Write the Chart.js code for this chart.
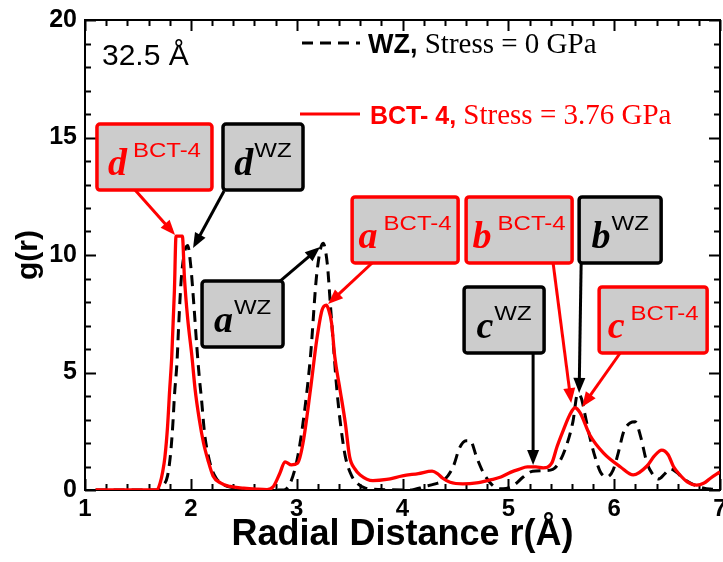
<!DOCTYPE html>
<html>
<head>
<meta charset="utf-8">
<script src="https://cdn.jsdelivr.net/npm/chart.js@4.4.1/dist/chart.umd.min.js"></script>
<style>
  html, body { margin: 0; padding: 0; background: #fff; }
  #wrap { width: 723px; height: 562px; position: relative; }
</style>
</head>
<body>
<div id="wrap"><canvas id="gr-chart"></canvas></div>
<script>
// g(r), BCT-4 (red, 3.76 GPa)
const bctR = [1.10, 1.68, 1.71, 1.735, 1.755, 1.78, 1.80, 1.82, 1.845, 1.86,
              1.92, 1.94, 1.97, 2.01, 2.04, 2.08, 2.12, 2.16, 2.21, 2.28,
              2.37, 2.50, 2.62, 2.72, 2.78, 2.84, 2.89, 2.95, 3.01, 3.06,
              3.13, 3.19, 3.24, 3.28, 3.30, 3.33, 3.36, 3.41, 3.46, 3.50,
              3.55, 3.60, 3.72, 3.85, 4.00, 4.15, 4.28, 4.33, 4.38, 4.45,
              4.57, 4.70, 4.83, 4.93, 5.02, 5.10, 5.18, 5.26, 5.33, 5.41,
              5.46, 5.52, 5.58, 5.63, 5.68, 5.77, 5.90, 6.06, 6.18, 6.31,
              6.38, 6.45, 6.51, 6.56, 6.62, 6.69, 6.78, 6.85, 6.91, 7.00];
const bctG = [0, 0, 0.3, 0.8, 1.4, 2.7, 4.26, 5.7, 8.5, 10.8,
              10.8, 9.0, 7.3, 5.7, 4.3, 3.0, 2.0, 1.3, 0.6, 0.3,
              0.15, 0.08, 0.04, 0.02, 0.15, 0.7, 1.2, 1.07, 1.15, 2.0,
              4.26, 6.4, 7.66, 7.87, 7.7, 7.1, 5.67, 4.26, 2.84, 1.42,
              0.9, 0.64, 0.4, 0.45, 0.6, 0.7, 0.8, 0.7, 0.5, 0.33,
              0.26, 0.3, 0.43, 0.55, 0.75, 0.88, 0.98, 0.98, 0.94, 1.14,
              1.84, 2.55, 3.19, 3.5, 3.27, 2.34, 1.57, 0.98, 0.64, 1.02,
              1.45, 1.70, 1.5, 1.0, 0.65, 0.35, 0.21, 0.3, 0.5, 0.77];

// WZ (black dashed, 0 GPa)
const wzR = [1.10, 1.68, 1.74, 1.78, 1.81, 1.83, 1.845, 1.87, 1.885, 1.91,
             1.94, 1.97, 2.00, 2.03, 2.055, 2.08, 2.10, 2.13, 2.15, 2.19,
             2.24, 2.30, 2.40, 2.50, 2.88, 2.94, 3.00, 3.06, 3.13, 3.19,
             3.25, 3.29, 3.32, 3.35, 3.38, 3.42, 3.46, 3.52, 3.57, 3.65,
             3.80, 4.07, 4.21, 4.30, 4.40, 4.48, 4.54, 4.60, 4.64, 4.70,
             4.76, 4.82, 4.88, 4.95, 5.05, 5.14, 5.23, 5.32, 5.42, 5.49,
             5.55, 5.61, 5.655, 5.69, 5.72, 5.77, 5.82, 5.87, 5.93, 5.99,
             6.04, 6.09, 6.15, 6.20, 6.25, 6.31, 6.36, 6.42, 6.48, 6.53,
             6.59, 6.65, 6.72, 6.78, 6.85, 6.91, 7.00];
const wzG = [0, 0, 0.2, 0.6, 1.6, 2.8, 4.0, 5.5, 7.0, 9.0,
             10.1, 10.4, 9.5, 7.8, 6.2, 4.8, 3.9, 2.4, 1.8, 1.0,
             0.5, 0.25, 0.1, 0.03, 0, 0.3, 1.2, 2.85, 5.66, 9.2,
             10.5, 9.6, 7.8, 6.0, 4.26, 2.6, 1.42, 0.6, 0.3, 0.08,
             0.02, 0, 0.15, 0.25, 0.45, 1.0, 1.8, 2.1, 2.1, 1.4,
             0.77, 0.35, 0.1, 0.05, 0.2, 0.55, 0.8, 0.82, 0.88, 1.25,
             1.9, 2.9, 4.1, 3.9, 3.3, 2.25, 1.4, 0.77, 0.55, 0.85,
             1.6, 2.48, 2.85, 2.9, 2.27, 1.15, 0.7, 0.47, 0.7, 0.9,
             0.75, 0.5, 0.3, 0.17, 0.08, 0.04, 0];

const xTicks = [1, 2, 3, 4, 5, 6, 7];
const yTicks = [0, 5, 10, 15, 20];
const sizeLabel = '32.5 Å';
const legendWZ  = ['WZ,', ' Stress = 0 GPa'];
const legendBCT = ['BCT- 4,', ' Stress = 3.76 GPa'];

const RED = '#ff0000';
const BLACK = '#000000';
const SANS = '"Liberation Sans", Arial, sans-serif';
const SERIF = '"Liberation Serif", "Times New Roman", serif';

// callout boxes: top-left corner and arrow tail/tip given in data units (r, g)
const callouts = [
  { letter: 'd', tag: 'BCT-4', color: RED,   r: 1.113, g: 15.57, w: 115, tail: [1.473, 12.77], tip: [1.851, 10.85] },
  { letter: 'd', tag: 'WZ',    color: BLACK, r: 2.304, g: 15.57, w: 80,  tail: [2.314, 12.72], tip: [2.021, 10.30] },
  { letter: 'a', tag: 'WZ',    color: BLACK, r: 2.106, g: 8.89,  w: 81,  tail: [2.843, 8.89],  tip: [3.221, 10.34] },
  { letter: 'a', tag: 'BCT-4', color: RED,   r: 3.524, g: 12.47, w: 106, tail: [3.713, 9.66],  tip: [3.297, 7.91] },
  { letter: 'b', tag: 'BCT-4', color: RED,   r: 4.601, g: 12.47, w: 106, tail: [5.423, 9.66],  tip: [5.594, 3.70] },
  { letter: 'b', tag: 'WZ',    color: BLACK, r: 5.669, g: 12.47, w: 82,  tail: [5.688, 9.66],  tip: [5.669, 4.13] },
  { letter: 'c', tag: 'WZ',    color: BLACK, r: 4.582, g: 8.64,  w: 80,  tail: [5.234, 5.83],  tip: [5.234, 1.06] },
  { letter: 'c', tag: 'BCT-4', color: RED,   r: 5.858, g: 8.64,  w: 108, tail: [6.057, 5.83],  tip: [5.697, 3.53] }
];

function drawArrow(ctx, x1, y1, x2, y2, color) {
  const ang = Math.atan2(y2 - y1, x2 - x1);
  const head = 15, half = 6;
  const cos = Math.cos(ang), sin = Math.sin(ang);
  ctx.strokeStyle = color;
  ctx.fillStyle = color;
  ctx.lineWidth = 3;
  ctx.beginPath();
  ctx.moveTo(x1, y1);
  ctx.lineTo(x2 - cos * head * 0.8, y2 - sin * head * 0.8);
  ctx.stroke();
  ctx.beginPath();
  ctx.moveTo(x2, y2);
  ctx.lineTo(x2 - head * cos + half * sin, y2 - head * sin - half * cos);
  ctx.lineTo(x2 - head * cos - half * sin, y2 - head * sin + half * cos);
  ctx.closePath();
  ctx.fill();
}

function drawCallout(ctx, x, y, c) {
  const bx = x.getPixelForValue(c.r), by = y.getPixelForValue(c.g);
  const h = 66;
  drawArrow(ctx, x.getPixelForValue(c.tail[0]), y.getPixelForValue(c.tail[1]),
            x.getPixelForValue(c.tip[0]), y.getPixelForValue(c.tip[1]), c.color);

  ctx.beginPath();
  ctx.roundRect(bx, by, c.w, h, 3);
  ctx.fillStyle = '#cccccc';
  ctx.fill();
  ctx.lineWidth = 3.5;
  ctx.strokeStyle = c.color;
  ctx.stroke();

  ctx.fillStyle = c.color;
  ctx.textBaseline = 'alphabetic';
  ctx.textAlign = 'left';
  ctx.font = `italic bold 38px ${SERIF}`;
  const lw = ctx.measureText(c.letter).width;
  ctx.font = `20px ${SANS}`;
  const stretch = 1.2;
  const tw = ctx.measureText(c.tag).width * stretch;
  const gap = c.tag === 'WZ' ? 1 : 6;
  const x0 = bx + (c.w - (lw + gap + tw)) / 2;

  ctx.font = `italic bold 38px ${SERIF}`;
  ctx.fillText(c.letter, x0, by + 51);
  ctx.save();
  ctx.translate(x0 + lw + gap, by + 33);
  ctx.scale(stretch, 1);
  ctx.font = `20px ${SANS}`;
  ctx.fillText(c.tag, 0, 0);
  ctx.restore();
}

const frameAndNotes = {
  id: 'frameAndNotes',
  beforeDatasetsDraw(chart) {
    const { ctx, chartArea: a, scales: { x, y } } = chart;
    ctx.save();
    ctx.strokeStyle = BLACK;
    ctx.lineWidth = 2;
    ctx.strokeRect(a.left, a.top, a.right - a.left, a.bottom - a.top);
    ctx.beginPath();
    // inward ticks on all four sides, minor every 0.2 / 1
    for (let i = 0; i <= 30; i++) {
      const v = x.min + i * 0.2;
      const px = Math.round(x.getPixelForValue(v)) + 0.5;
      const len = i % 5 === 0 ? 11 : 6;
      ctx.moveTo(px, a.bottom); ctx.lineTo(px, a.bottom - len);
      ctx.moveTo(px, a.top);    ctx.lineTo(px, a.top + len);
    }
    for (let v = y.min; v <= y.max; v++) {
      const py = Math.round(y.getPixelForValue(v)) + 0.5;
      const len = v % 5 === 0 ? 11 : 6;
      ctx.moveTo(a.left, py);  ctx.lineTo(a.left + len, py);
      ctx.moveTo(a.right, py); ctx.lineTo(a.right - len, py);
    }
    ctx.stroke();
    ctx.restore();
  },
  afterDatasetsDraw(chart) {
    const { ctx, scales: { x, y } } = chart;
    ctx.save();

    // sample size
    ctx.fillStyle = BLACK;
    ctx.font = `30px ${SANS}`;
    ctx.textAlign = 'left';
    ctx.textBaseline = 'alphabetic';
    ctx.fillText(sizeLabel, 102, 65);

    // legend
    ctx.lineWidth = 3;
    ctx.strokeStyle = BLACK;
    ctx.setLineDash([11, 7]);
    ctx.beginPath(); ctx.moveTo(302, 43); ctx.lineTo(360, 43); ctx.stroke();
    ctx.setLineDash([]);
    ctx.strokeStyle = RED;
    ctx.beginPath(); ctx.moveTo(300, 114); ctx.lineTo(360, 114); ctx.stroke();

    ctx.fillStyle = BLACK;
    ctx.font = `bold 27px ${SANS}`;
    ctx.fillText(legendWZ[0], 368, 53);
    let w = ctx.measureText(legendWZ[0]).width;
    ctx.font = `29px ${SERIF}`;
    ctx.fillText(legendWZ[1], 368 + w, 53);

    ctx.fillStyle = RED;
    ctx.font = `bold 25px ${SANS}`;
    ctx.fillText(legendBCT[0], 370, 124);
    w = ctx.measureText(legendBCT[0]).width;
    ctx.font = `29px ${SERIF}`;
    ctx.fillText(legendBCT[1], 370 + w, 124);

    callouts.forEach(c => drawCallout(ctx, x, y, c));
    ctx.restore();
  }
};

const ctx = document.getElementById('gr-chart').getContext('2d');
new Chart(ctx, {
  type: 'line',
  data: {
    datasets: [
      {
        label: 'BCT- 4, Stress = 3.76 GPa',
        data: bctR.map((r, i) => ({ x: r, y: bctG[i] })),
        borderColor: RED,
        borderWidth: 3.3,
        pointRadius: 0,
        cubicInterpolationMode: 'monotone',
        order: 0
      },
      {
        label: 'WZ, Stress = 0 GPa',
        data: wzR.map((r, i) => ({ x: r, y: wzG[i] })),
        borderColor: BLACK,
        borderWidth: 3,
        borderDash: [11, 7],
        pointRadius: 0,
        cubicInterpolationMode: 'monotone',
        order: 1
      }
    ]
  },
  options: {
    responsive: true,
    maintainAspectRatio: false,
    animation: false,
    layout: { padding: { top: 20, right: 3, left: 0, bottom: 0 } },
    plugins: { legend: { display: false }, tooltip: { enabled: false } },
    scales: {
      x: {
        type: 'linear',
        min: 1, max: 7,
        afterBuildTicks: s => { s.ticks = xTicks.map(v => ({ value: v })); },
        afterFit: s => { s.height = 72; s.paddingLeft = 0; s.paddingRight = 0; },
        grid: { display: false, drawTicks: false },
        border: { display: false },
        ticks: { color: BLACK, padding: 5, font: { family: SANS, size: 24, weight: 'bold' } },
        title: {
          display: true,
          text: 'Radial Distance r(Å)',
          color: BLACK,
          padding: { top: 0, bottom: 5 },
          font: { family: SANS, size: 36, weight: 'bold' }
        }
      },
      y: {
        min: 0, max: 20,
        afterBuildTicks: s => { s.ticks = yTicks.map(v => ({ value: v })); },
        afterFit: s => { s.width = 85; s.paddingTop = 0; s.paddingBottom = 0; },
        grid: { display: false, drawTicks: false },
        border: { display: false },
        ticks: { color: BLACK, padding: 8, font: { family: SANS, size: 25, weight: 'bold' } },
        title: {
          display: true,
          text: 'g(r)',
          color: BLACK,
          padding: { top: 11, bottom: 0 },
          font: { family: SANS, size: 30, weight: 'bold' }
        }
      }
    }
  },
  plugins: [frameAndNotes]
});
</script>
</body>
</html>
